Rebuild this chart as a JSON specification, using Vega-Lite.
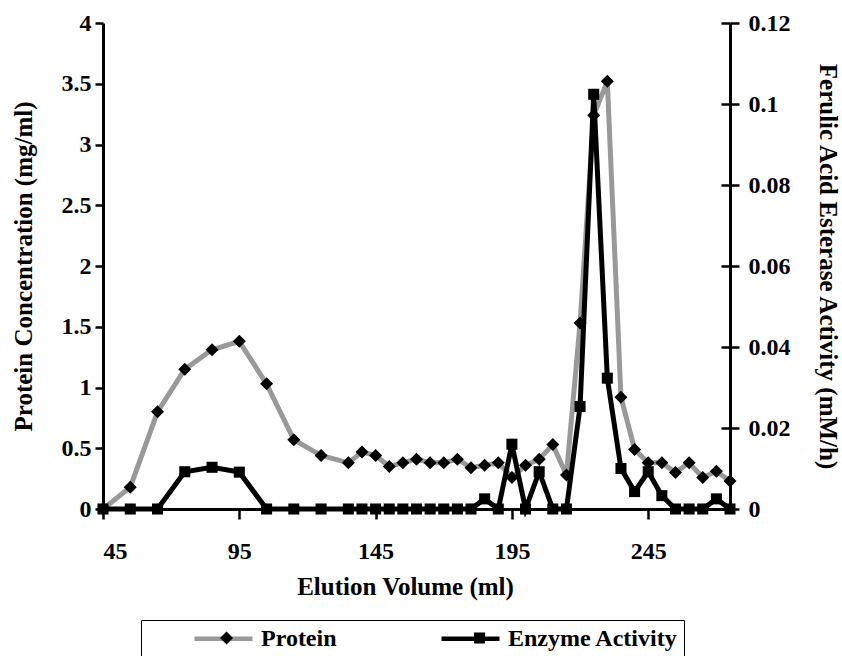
{
  "$schema": "https://vega.github.io/schema/vega-lite/v6.json",
  "width": 627,
  "height": 486,
  "autosize": "none",
  "padding": {"left": 103, "top": 23, "right": 112, "bottom": 147},
  "background": "white",
  "config": {
    "view": {"stroke": null},
    "font": "Liberation Serif",
    "axis": {
      "labelFont": "Liberation Serif", "labelFontWeight": "bold", "labelFontSize": 24, "labelColor": "black",
      "titleFont": "Liberation Serif", "titleFontWeight": "bold", "titleFontSize": 25, "titleColor": "black",
      "domainColor": "black", "domainWidth": 3, "tickColor": "black", "tickWidth": 2.5, "grid": false
    }
  },
  "data": {"values": [
    {"volume": 45, "protein": 0, "activity": 0},
    {"volume": 55, "protein": 0.18, "activity": 0},
    {"volume": 65, "protein": 0.80, "activity": 0},
    {"volume": 75, "protein": 1.15, "activity": 0.0092},
    {"volume": 85, "protein": 1.31, "activity": 0.0103},
    {"volume": 95, "protein": 1.38, "activity": 0.0091},
    {"volume": 105, "protein": 1.03, "activity": 0},
    {"volume": 115, "protein": 0.57, "activity": 0},
    {"volume": 125, "protein": 0.44, "activity": 0},
    {"volume": 135, "protein": 0.38, "activity": 0},
    {"volume": 140, "protein": 0.47, "activity": 0},
    {"volume": 145, "protein": 0.44, "activity": 0},
    {"volume": 150, "protein": 0.35, "activity": 0},
    {"volume": 155, "protein": 0.38, "activity": 0},
    {"volume": 160, "protein": 0.41, "activity": 0},
    {"volume": 165, "protein": 0.38, "activity": 0},
    {"volume": 170, "protein": 0.38, "activity": 0},
    {"volume": 175, "protein": 0.41, "activity": 0},
    {"volume": 180, "protein": 0.34, "activity": 0},
    {"volume": 185, "protein": 0.36, "activity": 0.0025},
    {"volume": 190, "protein": 0.38, "activity": 0},
    {"volume": 195, "protein": 0.26, "activity": 0.016},
    {"volume": 200, "protein": 0.36, "activity": 0},
    {"volume": 205, "protein": 0.41, "activity": 0.0092},
    {"volume": 210, "protein": 0.53, "activity": 0},
    {"volume": 215, "protein": 0.28, "activity": 0},
    {"volume": 220, "protein": 1.53, "activity": 0.0253},
    {"volume": 225, "protein": 3.24, "activity": 0.1024},
    {"volume": 230, "protein": 3.52, "activity": 0.0323},
    {"volume": 235, "protein": 0.92, "activity": 0.0100},
    {"volume": 240, "protein": 0.49, "activity": 0.0043},
    {"volume": 245, "protein": 0.38, "activity": 0.0092},
    {"volume": 250, "protein": 0.38, "activity": 0.0033},
    {"volume": 255, "protein": 0.30, "activity": 0},
    {"volume": 260, "protein": 0.38, "activity": 0},
    {"volume": 265, "protein": 0.26, "activity": 0},
    {"volume": 270, "protein": 0.31, "activity": 0.0025},
    {"volume": 275, "protein": 0.23, "activity": 0}
  ]},
  "encoding": {
    "x": {
      "field": "volume", "type": "quantitative",
      "scale": {"domain": [45, 275], "nice": false, "zero": false},
      "axis": {"values": [45, 95, 145, 195, 245], "tickSize": 10, "labelPadding": 20, "title": "Elution Volume (ml)", "titlePadding": 11, "titleX": 302}
    }
  },
  "layer": [
    {
      "mark": {"type": "line", "strokeWidth": 5},
      "encoding": {
        "y": {"field": "protein", "type": "quantitative", "scale": {"domain": [0, 4], "nice": false},
          "axis": {"orient": "left", "values": [0, 0.5, 1, 1.5, 2, 2.5, 3, 3.5, 4], "format": ".1~f", "tickSize": 8, "labelPadding": 4, "title": "Protein Concentration (mg/ml)", "titlePadding": 25}},
        "color": {
          "datum": "Protein", "type": "nominal",
          "scale": {"domain": ["Protein", "Enzyme Activity"], "range": ["#999999", "#000000"]},
          "legend": {
            "orient": "none", "legendX": 38, "legendY": 597, "direction": "horizontal", "title": null,
            "labelFont": "Liberation Serif", "labelFontWeight": "bold", "labelFontSize": 24, "labelColor": "black", "labelLimit": 400,
            "strokeColor": "black", "padding": 6, "columnPadding": 57, "symbolSize": 400, "symbolOffset": 64, "labelOffset": 25,
            "labelExpr": "datum.label === 'Enzyme Activity' ? datum.label + '\u2003\u2003\u00a0' : datum.label",
            "encode": {"symbols": {"update": {
              "shape": {"value": "M-2.9,0H2.9"},
              "fill": {"value": "transparent"}, "strokeWidth": {"value": 4.5}, "opacity": {"value": 1}
            }}}
          }
        }
      }
    },
    {
      "mark": {"type": "line", "strokeWidth": 5},
      "encoding": {
        "y": {"field": "activity", "type": "quantitative", "scale": {"domain": [0, 0.12], "nice": false},
          "axis": {"orient": "right", "values": [0, 0.02, 0.04, 0.06, 0.08, 0.1, 0.12], "format": ".2~f", "tickSize": 9, "labelPadding": 9, "title": "Ferulic Acid Esterase Activity (mM/h)", "titlePadding": 24, "titleAngle": 90}},
        "color": {"datum": "Enzyme Activity", "type": "nominal"}
      }
    },
    {
      "mark": {"type": "point", "filled": true, "color": "black", "size": 169, "opacity": 1},
      "encoding": {
        "y": {"field": "protein", "type": "quantitative", "scale": {"domain": [0, 4], "nice": false}, "axis": null},
        "shape": {
          "datum": "P", "type": "nominal",
          "scale": {"domain": ["P", "E"], "range": ["M0,-1L1,0L0,1L-1,0Z", "M-0.85,-0.85H0.85V0.85H-0.85Z"]},
          "legend": {
            "orient": "none", "legendX": 38, "legendY": 597, "direction": "horizontal", "title": null, "zindex": 1,
            "labelFont": "Liberation Serif", "labelFontWeight": "bold", "labelFontSize": 24, "labelLimit": 400,
            "padding": 6, "columnPadding": 133, "symbolSize": 169, "symbolOffset": 67.5, "labelOffset": 28.5,
            "symbolFillColor": "black", "symbolStrokeColor": "black", "symbolStrokeWidth": 0,
            "labelExpr": "''"
          }
        }
      }
    },
    {
      "mark": {"type": "point", "filled": true, "color": "black", "size": 169, "opacity": 1},
      "encoding": {
        "y": {"field": "activity", "type": "quantitative", "scale": {"domain": [0, 0.12], "nice": false},
          "axis": {"orient": "right", "values": [0, 0.02, 0.04, 0.06, 0.08, 0.1, 0.12], "tickSize": -9, "labels": false, "domain": false, "title": null}},
        "shape": {"datum": "E", "type": "nominal"}
      }
    }
  ],
  "resolve": {"scale": {"y": "independent"}}
}
